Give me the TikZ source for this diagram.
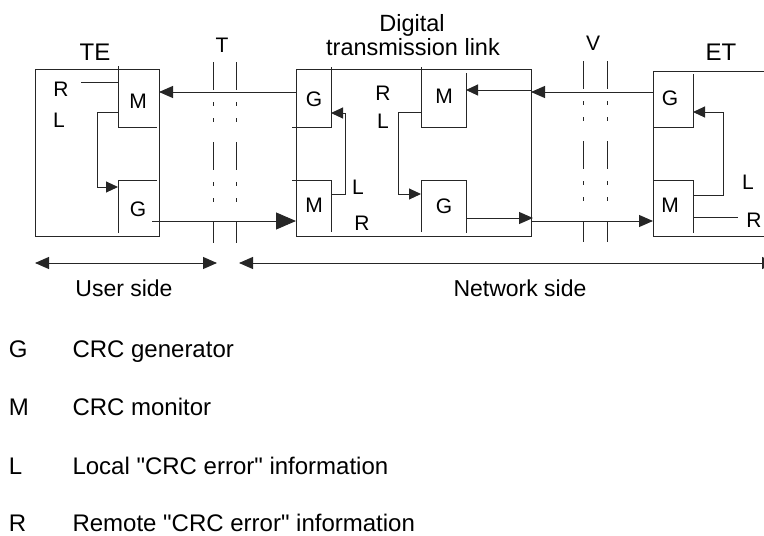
\documentclass[tikz,border=0pt]{standalone}
\usepackage{fontspec}
\setmainfont{Liberation Sans}[Ligatures=TeXOff]
\usetikzlibrary{arrows.meta}
\begin{document}
\begin{tikzpicture}[x=1pt,y=-1pt,line width=1pt,
  ln/.style={draw=black!85},
  sig/.style={ln,-{Triangle[length=14pt,width=12pt]}},
  sigsmall/.style={ln,-{Triangle[length=12pt,width=11pt]}},
  sigbig/.style={ln,-{Triangle[length=20pt,width=17pt]}},
  span/.style={ln,{Triangle[length=14pt,width=12pt]}-{Triangle[length=14pt,width=12pt]}},
  ifline/.style={ln,dash pattern=on 28pt off 12pt on 4pt off 12pt on 4pt off 20pt},
  txt/.style={inner sep=0pt,anchor=base,font=\fontsize{21}{24}\selectfont},
  big/.style={txt,font=\fontsize{24}{28}\selectfont},
  leg/.style={inner sep=0pt,anchor=base west,font=\fontsize{24}{28}\selectfont}]
\useasboundingbox (0,0) rectangle (764,536);

% ---------------- TE ----------------
\draw[ln] (35,69) rectangle (159,236);
\draw[ln] (118,66) -- (118,127) -- (157,127);
\draw[ln] (157,180) -- (118,180) -- (118,233);
\coordinate (teR) at (81,82);
\coordinate (teMR) at (118,82);
\coordinate (teML) at (118,112);
\coordinate (teGL) at (118,187);
\coordinate (teMin) at (159,92);
\coordinate (teGout) at (152,221);
\draw[ln] (teR) -- (teMR);
\draw[sigsmall] (teML) -- (97,112) -- (97,187) -- (teGL);
\node[txt] (teM) at (138,108) {M};
\node[txt] (teG) at (138,216) {G};
\node[txt] (teRl) at (61,96) {R};
\node[txt] (teLl) at (59,127) {L};
\node[big] (teLabel) at (95,60) {TE};

% ---------------- T reference point ----------------
\draw[ifline] (213,62) -- (213,243);
\draw[ifline] (236,62) -- (236,243);
\node[txt] (tLabel) at (222,52) {T};

% ---------------- Digital transmission link ----------------
\draw[ln] (296,69) rectangle (531,236);
% left half
\draw[ln] (292,127) -- (331,127) -- (331,67);
\draw[ln] (292,180) -- (331,180) -- (331,232);
\coordinate (dlGin) at (296,92);
\coordinate (dlMin) at (296,221);
\coordinate (dlMout) at (331,194);
\coordinate (dlGloc) at (331,113);
\draw[sigsmall] (dlMout) -- (345,194) -- (345,113) -- (dlGloc);
\node[txt] (dlG) at (314,106) {G};
\node[txt] (dlM) at (314,212) {M};
\node[txt] (dlL1) at (358,194) {L};
\node[txt] (dlR1) at (362,230) {R};
% right half
\draw[ln] (421,67) -- (421,127) -- (466,127) -- (466,73);
\draw[ln] (421,232) -- (421,180) -- (466,180) -- (466,233);
\coordinate (drMloc) at (421,112);
\coordinate (drGloc) at (421,194);
\coordinate (drMin) at (466,90);
\coordinate (drEdgeIn) at (531,90);
\coordinate (drGout) at (466,218);
\coordinate (drEdgeOut) at (533,218);
\draw[sigsmall] (drMloc) -- (398,112) -- (398,194) -- (drGloc);
\node[txt] (drM) at (444,103) {M};
\node[txt] (drG) at (444,213) {G};
\node[txt] (dlR2) at (383,100) {R};
\node[txt] (dlL2) at (383,128) {L};
\node[txt,font=\fontsize{23.5}{28}\selectfont] (dtl1) at (412,31) {Digital};
\node[txt,font=\fontsize{23.5}{28}\selectfont] (dtl2) at (413,55) {transmission link};

% ---------------- V reference point ----------------
\draw[ifline] (583,61) -- (583,242);
\draw[ifline] (607,61) -- (607,242);
\node[txt] (vLabel) at (593,50) {V};

% ---------------- ET ----------------
\draw[ln] (780,71) -- (653,71) -- (653,236) -- (780,236);
\draw[ln] (653,127) -- (693,127) -- (693,74);
\draw[ln] (653,180) -- (693,180) -- (693,233);
\coordinate (etGout) at (653,92);
\coordinate (etMin) at (653,221);
\coordinate (etMout) at (693,195);
\coordinate (etGloc) at (693,112);
\coordinate (etMR) at (693,217);
\coordinate (etR) at (738,217);
\draw[sigsmall] (etMout) -- (723,195) -- (723,112) -- (etGloc);
\draw[ln] (etMR) -- (etR);
\node[txt] (etG) at (670,105) {G};
\node[txt] (etM) at (670,212) {M};
\node[txt] (etLl) at (748,189) {L};
\node[txt] (etRl) at (754,227) {R};
\node[big] (etLabel) at (721,60) {ET};

% ---------------- signal paths ----------------
\draw[sig] (dlGin) -- (teMin);
\draw[sigbig] (teGout) -- (dlMin);
\draw[sig] (etGout |- 0,92) -- (drEdgeIn |- 0,92);
\draw[sigsmall] (drEdgeIn) -- (drMin);
\draw[sig] (drGout) -- (drEdgeOut);
\draw[sig] (531,221) -- (etMin);

% ---------------- sides ----------------
\coordinate (usrA) at (35,263);
\coordinate (usrB) at (217,263);
\coordinate (netA) at (239,263);
\coordinate (netB) at (776,263);
\draw[span] (usrA) -- (usrB);
\draw[span] (netA) -- (netB);
\node[txt,font=\fontsize{23}{28}\selectfont] (userSide) at (124,296) {User side};
\node[txt,font=\fontsize{23}{28}\selectfont] (netSide) at (520,296) {Network side};

% ---------------- legend ----------------
\node[leg] (kG) at (8.5,357) {G};
\node[leg] (kM) at (8.5,415) {M};
\node[leg] (kL) at (8.5,474) {L};
\node[leg] (kR) at (8.5,531) {R};
\node[leg] (tG) at (72,357) {CRC generator};
\node[leg] (tM) at (72,415) {CRC monitor};
\node[leg] (tL) at (72,474) {Local "CRC error" information};
\node[leg] (tR) at (72,531) {Remote "CRC error" information};
\end{tikzpicture}
\end{document}
